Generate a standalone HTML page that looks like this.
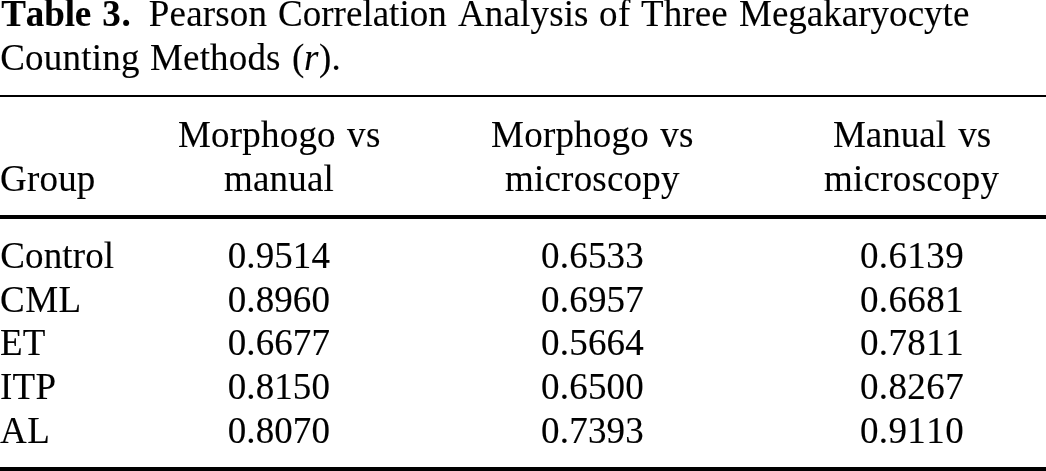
<!DOCTYPE html>
<html><head><meta charset="utf-8"><title>Table 3</title>
<style>
html,body{margin:0;padding:0;background:#fff;}
body{width:1046px;height:471px;overflow:hidden;position:relative;font-family:"Liberation Serif",serif;font-size:37px;color:#000;font-kerning:none;font-variant-ligatures:none;-webkit-text-stroke:0.12px #000;}
.w{position:absolute;white-space:nowrap;line-height:44px;}
.r{position:absolute;left:0;width:1046px;background:#000;}
b{font-weight:bold}i{font-style:italic}
</style></head><body>
<div class="r" style="top:95px;height:2px"></div>
<div class="r" style="top:215px;height:4px"></div>
<div class="r" style="top:467px;height:4px"></div>
<div class="w" style="left:1.25px;top:-8px;letter-spacing:-0.113px"><b>Table</b></div>
<div class="w" style="left:102.30px;top:-8px;letter-spacing:0.700px"><b>3.</b></div>
<div class="w" style="left:148.85px;top:-8px;letter-spacing:0.175px">Pearson</div>
<div class="w" style="left:278.10px;top:-8px;letter-spacing:0.010px">Correlation</div>
<div class="w" style="left:458.00px;top:-8px;letter-spacing:0.143px">Analysis</div>
<div class="w" style="left:599.00px;top:-8px;letter-spacing:0.500px">of</div>
<div class="w" style="left:641.10px;top:-8px;letter-spacing:0.050px">Three</div>
<div class="w" style="left:739.00px;top:-8px;letter-spacing:0.017px">Megakaryocyte</div>
<div class="w" style="left:0.20px;top:36px;letter-spacing:0.229px">Counting</div>
<div class="w" style="left:150.00px;top:36px;letter-spacing:0.167px">Methods</div>
<div class="w" style="left:292.00px;top:36px;letter-spacing:0.000px">(</div>
<div class="w" style="left:304.10px;top:36px;letter-spacing:0.000px"><i>r</i></div>
<div class="w" style="left:319.00px;top:36px;letter-spacing:0.100px">).</div>
<div class="w" style="left:0.00px;top:157px;letter-spacing:0.200px">Group</div>
<div class="w" style="left:177.90px;top:113px;letter-spacing:0.214px">Morphogo</div>
<div class="w" style="left:347.05px;top:113px;letter-spacing:0.350px">vs</div>
<div class="w" style="left:223.90px;top:157px;letter-spacing:0.220px">manual</div>
<div class="w" style="left:491.10px;top:113px;letter-spacing:0.200px">Morphogo</div>
<div class="w" style="left:660.20px;top:113px;letter-spacing:0.300px">vs</div>
<div class="w" style="left:505.00px;top:157px;letter-spacing:0.211px">microscopy</div>
<div class="w" style="left:832.90px;top:113px;letter-spacing:0.000px">Manual</div>
<div class="w" style="left:958.30px;top:113px;letter-spacing:0.000px">vs</div>
<div class="w" style="left:824.00px;top:157px;letter-spacing:0.267px">microscopy</div>
<div class="w" style="left:0.20px;top:234px;letter-spacing:0.150px">Control</div>
<div class="w" style="left:0.00px;top:278px;letter-spacing:0.500px">CML</div>
<div class="w" style="left:0.00px;top:321px;letter-spacing:0.100px">ET</div>
<div class="w" style="left:0.00px;top:365px;letter-spacing:0.300px">ITP</div>
<div class="w" style="left:0.00px;top:409px;letter-spacing:0.500px">AL</div>
<div class="w" style="left:227.70px;top:234px;letter-spacing:0.100px">0.9514</div>
<div class="w" style="left:227.70px;top:278px;letter-spacing:0.100px">0.8960</div>
<div class="w" style="left:227.70px;top:321px;letter-spacing:0.100px">0.6677</div>
<div class="w" style="left:227.70px;top:365px;letter-spacing:0.100px">0.8150</div>
<div class="w" style="left:227.70px;top:409px;letter-spacing:0.100px">0.8070</div>
<div class="w" style="left:541.05px;top:234px;letter-spacing:0.200px">0.6533</div>
<div class="w" style="left:541.05px;top:278px;letter-spacing:0.200px">0.6957</div>
<div class="w" style="left:541.05px;top:321px;letter-spacing:0.200px">0.5664</div>
<div class="w" style="left:541.05px;top:365px;letter-spacing:0.200px">0.6500</div>
<div class="w" style="left:541.05px;top:409px;letter-spacing:0.200px">0.7393</div>
<div class="w" style="left:859.90px;top:234px;letter-spacing:0.400px">0.6139</div>
<div class="w" style="left:859.90px;top:278px;letter-spacing:0.400px">0.6681</div>
<div class="w" style="left:859.90px;top:321px;letter-spacing:0.400px">0.7811</div>
<div class="w" style="left:859.90px;top:365px;letter-spacing:0.400px">0.8267</div>
<div class="w" style="left:859.90px;top:409px;letter-spacing:0.400px">0.9110</div>
</body></html>
